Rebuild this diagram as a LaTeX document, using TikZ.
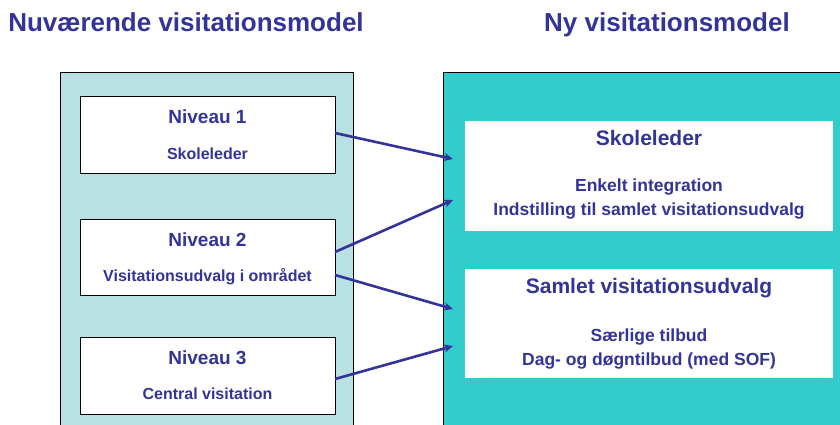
\documentclass[tikz,border=0pt]{standalone}
\usepackage{fontspec}
\setmainfont{Liberation Sans}
\usetikzlibrary{arrows.meta}
\definecolor{txt}{HTML}{333399}
\definecolor{lightpanel}{HTML}{B9E0E2}
\definecolor{darkpanel}{HTML}{33CCCC}
\tikzset{
  lbl/.style={anchor=base, text=txt, font=\bfseries, inner sep=0pt},
  panel/.style={draw=black, line width=0.9pt},
  lbox/.style={draw=black, line width=0.9pt, fill=white},
  rbox/.style={fill=white},
  conn/.style={draw=txt, line width=2.6pt, -{Stealth[length=9pt,width=8pt]}},
}
\begin{document}
\begin{tikzpicture}[x=1pt,y=-1pt]
\useasboundingbox (0,0) rectangle (840,425);
\clip (0,0) rectangle (840,425);
% titles
\node[lbl, font=\fontsize{26}{30}\selectfont\bfseries] (t1) at (186,32) {Nuværende visitationsmodel};
\node[lbl, font=\fontsize{26}{30}\selectfont\bfseries] (t2) at (667,32) {Ny visitationsmodel};
% panels
\draw[panel, fill=lightpanel] (60,72) rectangle (353,440);
\draw[panel, fill=darkpanel] (443,72) rectangle (850,440);
% left boxes
\draw[lbox] (80,96) rectangle (335,173);
\draw[lbox] (80,219) rectangle (335,295);
\draw[lbox] (80,337) rectangle (335,414);
\coordinate (b1e) at (335,133);
\coordinate (b2ea) at (335,252);
\coordinate (b2eb) at (335,275);
\coordinate (b3e) at (335,379);
\node[lbl, font=\fontsize{19}{22}\selectfont\bfseries] (n1) at (207.5,124) {Niveau 1};
\node[lbl, font=\fontsize{16}{19}\selectfont\bfseries] (s1) at (207.5,159) {Skoleleder};
\node[lbl, font=\fontsize{19}{22}\selectfont\bfseries] (n2) at (207.5,246) {Niveau 2};
\node[lbl, font=\fontsize{16}{19}\selectfont\bfseries] (s2) at (207.5,281) {Visitationsudvalg i området};
\node[lbl, font=\fontsize{19}{22}\selectfont\bfseries] (n3) at (207.5,364) {Niveau 3};
\node[lbl, font=\fontsize{16}{19}\selectfont\bfseries] (s3) at (207.5,399) {Central visitation};
% right boxes
\fill[rbox] (465,121) rectangle (833,231);
\fill[rbox] (465,269) rectangle (833,378);
\node[lbl, font=\fontsize{21}{24}\selectfont\bfseries] (r1) at (649,145) {Skoleleder};
\node[lbl, font=\fontsize{17.5}{21}\selectfont\bfseries] (r1a) at (649,191) {Enkelt integration};
\node[lbl, font=\fontsize{17.5}{21}\selectfont\bfseries] (r1b) at (649,215) {Indstilling til samlet visitationsudvalg};
\node[lbl, font=\fontsize{21}{24}\selectfont\bfseries] (r2) at (649,293) {Samlet visitationsudvalg};
\node[lbl, font=\fontsize{17.5}{21}\selectfont\bfseries] (r2a) at (649,341) {Særlige tilbud};
\node[lbl, font=\fontsize{17.5}{21}\selectfont\bfseries] (r2b) at (649,365) {Dag- og døgntilbud (med SOF)};
% arrow targets
\coordinate (a1) at (453,159);
\coordinate (a2) at (453,200);
\coordinate (a3) at (453,309);
\coordinate (a4) at (453,346);
\draw[conn] (b1e) -- (a1);
\draw[conn] (b2ea) -- (a2);
\draw[conn] (b2eb) -- (a3);
\draw[conn] (b3e) -- (a4);
\end{tikzpicture}
\end{document}
